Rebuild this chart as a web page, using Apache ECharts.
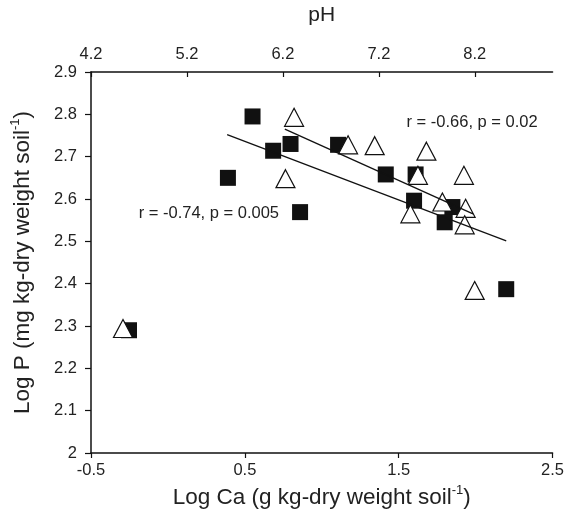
<!DOCTYPE html>
<html><head><meta charset="utf-8">
<script src="https://cdn.jsdelivr.net/npm/echarts@6/dist/echarts.min.js"></script>
<style>html,body{margin:0;padding:0;background:#fff}#c{width:567px;height:520px}</style>
</head><body><div id="c"></div>
<script>
// Filled squares: [Log Ca, Log P]
var squares = [[0.55,2.795],[0.797,2.730],[0.684,2.714],[0.39,2.650],[0.859,2.569],[1.106,2.728],[1.416,2.658],[1.61,2.658],[1.60,2.596],[1.849,2.581],[1.799,2.545],[2.199,2.387],[-0.253,2.290]];
// Open triangles: [Log Ca, Log P]
var triangles = [[0.82,2.793],[0.764,2.648],[1.171,2.728],[1.344,2.726],[1.68,2.713],[1.625,2.656],[1.924,2.656],[1.784,2.593],[1.935,2.578],[1.576,2.565],[1.929,2.539],[1.994,2.384],[-0.292,2.294]];
// Regression lines (end points)
var lineSquares = [[0.385,2.752],[2.199,2.501]];
var lineTriangles = [[0.76,2.765],[1.983,2.565]];
var xTicks = [-0.5,0.5,1.5,2.5];
var yTicks = [2,2.1,2.2,2.3,2.4,2.5,2.6,2.7,2.8,2.9];
var pHTicks = [4.2,5.2,6.2,7.2,8.2];
var labelA = 'r = -0.74, p = 0.005';
var labelB = 'r = -0.66, p = 0.02';
var posA = [0.266,2.567];
var posB = [1.977,2.781];

var F = 'Liberation Sans, Arial, sans-serif';
var chart = echarts.init(document.getElementById('c'));
var axisLine = {onZero:false,lineStyle:{color:'#111',width:1.5}};
var richTitle = {a:{fontSize:22.5,fontFamily:F,color:'#222',lineHeight:25,verticalAlign:'bottom'},s:{fontSize:13,fontFamily:F,color:'#222',lineHeight:25,verticalAlign:'top'}};
chart.setOption({
  animation:false,
  backgroundColor:'#fff',
  grid:{left:91,right:14,top:67,bottom:67,containLabel:false},
  xAxis:[{
    type:'value',min:-0.5,max:2.5,interval:1,position:'bottom',
    axisLine:axisLine,axisTick:{show:true,length:5,lineStyle:{color:'#111',width:1.2}},
    splitLine:{show:false},
    axisLabel:{color:'#222',fontSize:16.5,fontFamily:F,margin:9,formatter:function(v){return String(v);}},
    name:'{a|Log Ca (g kg-dry weight soil}{s|-1}{a|)}',nameLocation:'middle',nameGap:31,
    nameTextStyle:{rich:richTitle}
  },{
    type:'value',min:4.2,max:9.01,interval:1,position:'top',
    axisLine:axisLine,axisTick:{show:true,inside:true,length:5,lineStyle:{color:'#111',width:1.2}},
    splitLine:{show:false},
    axisLabel:{color:'#222',fontSize:16.5,fontFamily:F,margin:9,showMaxLabel:false,formatter:function(v){return v.toFixed(1);}},
    name:'pH',nameLocation:'middle',nameGap:46,
    nameTextStyle:{fontSize:21,fontFamily:F,color:'#222'}
  }],
  yAxis:{
    type:'value',min:2,max:2.9,interval:0.1,
    axisLine:axisLine,axisTick:{show:true,length:6,lineStyle:{color:'#111',width:1.2}},
    splitLine:{show:false},
    axisLabel:{color:'#222',fontSize:16.5,fontFamily:F,margin:14,formatter:function(v){return String(Math.round(v*10)/10);}},
    name:'{a|Log P (mg kg-dry weight soil}{s|-1}{a|)}',nameLocation:'middle',nameGap:57,nameRotate:90,
    nameTextStyle:{rich:richTitle}
  },
  series:[
    {type:'scatter',xAxisIndex:0,data:squares,symbol:'rect',symbolSize:16,itemStyle:{color:'#111',borderColor:'#111',borderWidth:0,opacity:1},z:2},
    {type:'scatter',xAxisIndex:0,data:triangles,symbol:'triangle',symbolSize:[19,18],itemStyle:{color:'#fff',borderColor:'#111',borderWidth:1.2,opacity:1},z:3},
    {type:'line',xAxisIndex:0,data:lineSquares,symbol:'none',lineStyle:{color:'#111',width:1.3},z:4,silent:true},
    {type:'line',xAxisIndex:0,data:lineTriangles,symbol:'none',lineStyle:{color:'#111',width:1.3},z:4,silent:true}
  ]
});
function place(){
  var pa = chart.convertToPixel({xAxisIndex:0,yAxisIndex:0},posA);
  var pb = chart.convertToPixel({xAxisIndex:0,yAxisIndex:0},posB);
  chart.setOption({graphic:[
    {type:'text',x:pa[0],y:pa[1],style:{text:labelA,fontSize:16.5,fontFamily:F,fill:'#222',textAlign:'center',textVerticalAlign:'middle'}},
    {type:'text',x:pb[0],y:pb[1],style:{text:labelB,fontSize:16.5,fontFamily:F,fill:'#222',textAlign:'center',textVerticalAlign:'middle'}}
  ]});
}
place();
</script></body></html>
